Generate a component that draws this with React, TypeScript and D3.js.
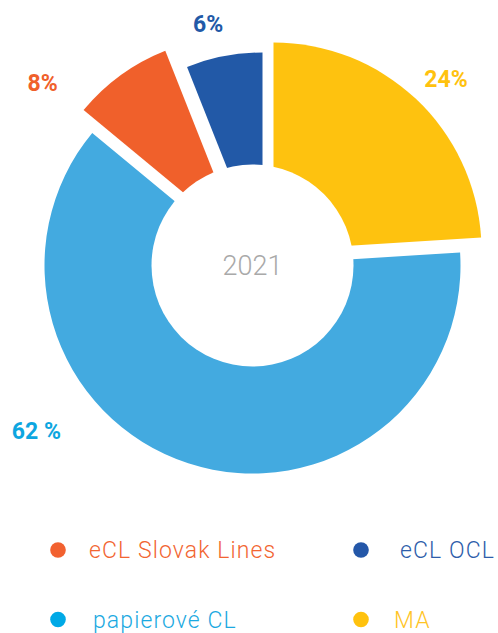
import React from 'react';
import * as d3 from 'd3';

// data
const categories = ['MA', 'papierové CL', 'eCL Slovak Lines', 'eCL OCL'];
const values = [24, 62, 8, 6];
const valueLabels = ['24%', '62 %', '8%', '6%'];
const centerLabel = '2021';
const legendOrder = ['eCL Slovak Lines', 'eCL OCL', 'papierové CL', 'MA'];

// styles
const sliceColors = ['#FEC20F', '#43AAE0', '#F0602B', '#2259A7'];
const labelColors = ['#FFC20E', '#0DA6E0', '#F0602B', '#2259A7'];
const legendDotColors = ['#F26130', '#2457A8', '#00A9E6', '#FFC20E'];
const legendTextColors = ['#F26531', '#2E5DAA', '#1BA9E1', '#FFC425'];
const legendTextGap = [31, 39, 35, 33];
// exploded pieces: shift (dx, dy) and outer radius per slice
const explode = [
  { dx: 21, dy: -15, r: 208 },
  { dx: 0, dy: 0, r: 208 },
  { dx: -12.5, dy: -26, r: 203 },
  { dx: 10, dy: -8, r: 205 },
];
// label placement: angle shift (deg) from slice middle, distance from centre
const labelPlace = [
  { da: 2.8, r: 269 },
  { da: 34.6, r: 272 },
  { da: -13, r: 278 },
  { da: 0.4, r: 246 },
];

const W = 498;
const H = 633;
const cx = 252.5;
const cy = 265.5;
const holeR = 101;

export default function App() {
  const pie = d3.pie<number>().sort(null).value((d) => d).startAngle(0).endAngle(2 * Math.PI);
  const arcs = pie(values);

  const legendX = d3.scalePoint<number>().domain([0, 1]).range([58, 361]);
  const legendY = d3.scalePoint<number>().domain([0, 1]).range([550, 619.5]);

  return (
    <svg
      width={W}
      height={H}
      style={{ position: 'absolute', left: 0, top: 0, background: '#fff' }}
      fontFamily="Roboto, 'Noto Sans', sans-serif"
    >
      <g transform={`translate(${cx},${cy})`}>
        {arcs.map((a, i) => {
          const e = explode[i];
          const path = d3.arc<d3.PieArcDatum<number>>().innerRadius(0).outerRadius(e.r)(a) || '';
          return (
            <path key={categories[i]} d={path} fill={sliceColors[i]} transform={`translate(${e.dx},${e.dy})`} />
          );
        })}
        <circle r={holeR} fill="#fff" />
        <text
          y={0}
          dy="0.35em"
          textAnchor="middle"
          fontSize={27}
          fontWeight={300}
          fill="#A9A9A9"
        >
          {centerLabel}
        </text>
        {arcs.map((a, i) => {
          const p = labelPlace[i];
          const ang = (a.startAngle + a.endAngle) / 2 + (p.da * Math.PI) / 180;
          const x = Math.sin(ang) * p.r;
          const y = -Math.cos(ang) * p.r;
          return (
            <text
              key={valueLabels[i]}
              x={x}
              y={y}
              dy="0.35em"
              textAnchor="middle"
              fontSize={23}
              fontWeight={700}
              fill={labelColors[i]}
            >
              {valueLabels[i]}
            </text>
          );
        })}
      </g>
      <g className="legend">
        {legendOrder.map((name, k) => {
          const x = legendX(k % 2) as number;
          const y = legendY(Math.floor(k / 2)) as number;
          return (
            <g key={name} transform={`translate(${x},${y})`}>
              <circle r={7.8} fill={legendDotColors[k]} />
              <text
                x={legendTextGap[k]}
                dy="0.35em"
                fontSize={23}
                fontWeight={300}
                letterSpacing={1.1}
                fill={legendTextColors[k]}
              >
                {name}
              </text>
            </g>
          );
        })}
      </g>
    </svg>
  );
}
